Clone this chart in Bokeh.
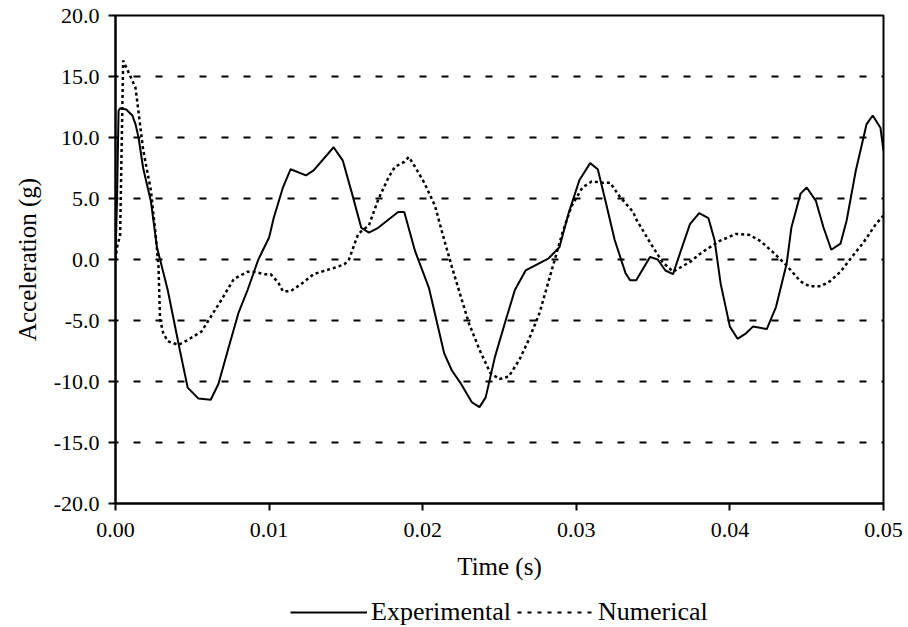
from bokeh.plotting import figure
from bokeh.layouts import column
from bokeh.models import Legend, LegendItem, FixedTicker, NumeralTickFormatter, Range1d
from bokeh.embed import file_html
from bokeh.resources import INLINE

# Experimental (solid) time [s] and acceleration [g]
exp_t = [0.0000, 0.0001, 0.0002, 0.0003, 0.0007, 0.0011, 0.0013, 0.0015, 0.0018,
         0.0023, 0.0027, 0.0029, 0.0034, 0.0038, 0.0042, 0.0047, 0.0054, 0.0062,
         0.0067, 0.0073, 0.0080, 0.0086, 0.0093, 0.0100, 0.0103, 0.0109, 0.0114,
         0.0124, 0.0129, 0.0142, 0.0148, 0.0154, 0.0160, 0.0165, 0.0171, 0.0184,
         0.0188, 0.0195, 0.0204, 0.0214, 0.0219, 0.0225, 0.0232, 0.0237, 0.0241,
         0.0247, 0.0254, 0.0260, 0.0267, 0.0273, 0.0282, 0.0289, 0.0295, 0.0302,
         0.0309, 0.0314, 0.0319, 0.0325, 0.0332, 0.0335, 0.0339, 0.0348, 0.0353,
         0.0358, 0.0363, 0.0368, 0.0374, 0.0380, 0.0386, 0.0390, 0.0394, 0.0400,
         0.0405, 0.0410, 0.0415, 0.0424, 0.0430, 0.0437, 0.0440, 0.0446, 0.0450,
         0.0456, 0.0461, 0.0466, 0.0472, 0.0476, 0.0482, 0.0489, 0.0493, 0.0498,
         0.0500]
exp_a = [0.0, 5.0, 12.2, 12.4, 12.3, 11.8, 11.1, 10.0, 7.5,
         4.8, 1.0, 0.0, -2.5, -5.0, -7.5, -10.5, -11.4, -11.5,
         -10.2, -7.5, -4.4, -2.5, 0.0, 1.8, 3.4, 5.9, 7.4,
         6.9, 7.3, 9.2, 8.1, 5.4, 2.6, 2.2, 2.6, 3.9,
         3.9, 0.7, -2.3, -7.7, -9.1, -10.2, -11.7, -12.1, -11.3,
         -8.0, -5.0, -2.5, -0.9, -0.5, 0.1, 1.0, 3.8, 6.5,
         7.9, 7.4, 4.8, 1.6, -1.1, -1.7, -1.7, 0.2, 0.0,
         -0.9, -1.2, 0.7, 2.9, 3.8, 3.4, 1.6, -2.0, -5.5,
         -6.5, -6.1, -5.5, -5.7, -3.9, -0.3, 2.6, 5.4, 5.9,
         4.8, 2.6, 0.8, 1.3, 3.2, 7.3, 11.1, 11.8, 10.8,
         8.9]

# Numerical (dotted) time [s] and acceleration [g]
num_t = [0.0000, 0.0001, 0.0003, 0.0005, 0.0013, 0.0014, 0.0018, 0.0023, 0.0026,
         0.0028, 0.0029, 0.0031, 0.0034, 0.0041, 0.0047, 0.0056, 0.0062, 0.0069,
         0.0077, 0.0086, 0.0090, 0.0097, 0.0101, 0.0106, 0.0109, 0.0114, 0.0121,
         0.0129, 0.0134, 0.0142, 0.0149, 0.0152, 0.0158, 0.0165, 0.0171, 0.0178,
         0.0182, 0.0188, 0.0191, 0.0195, 0.0201, 0.0208, 0.0214, 0.0219, 0.0224,
         0.0230, 0.0237, 0.0244, 0.0250, 0.0256, 0.0263, 0.0269, 0.0276, 0.0281,
         0.0286, 0.0291, 0.0297, 0.0304, 0.0310, 0.0317, 0.0322, 0.0328, 0.0337,
         0.0339, 0.0348, 0.0356, 0.0363, 0.0374, 0.0382, 0.0393, 0.0404, 0.0413,
         0.0420, 0.0428, 0.0437, 0.0446, 0.0452, 0.0459, 0.0465, 0.0472, 0.0480,
         0.0487, 0.0495, 0.0500]
num_a = [0.0, 1.0, 2.0, 16.3, 14.1, 13.1, 9.0, 5.7, 2.2,
         -0.6, -4.9, -6.0, -6.7, -7.0, -6.6, -5.9, -4.7, -3.3,
         -1.6, -1.0, -1.0, -1.2, -1.2, -1.9, -2.6, -2.6, -2.0,
         -1.2, -1.0, -0.7, -0.4, 0.0, 2.1, 2.8, 4.9, 6.8,
         7.6, 8.0, 8.4, 7.6, 6.3, 4.4, 1.6, -0.6, -2.7,
         -5.2, -7.4, -9.3, -9.8, -9.6, -8.2, -6.6, -4.4, -2.2,
         0.0, 2.2, 4.4, 5.9, 6.4, 6.3, 6.3, 5.2, 3.9,
         3.3, 1.4, -0.2, -1.0, -0.2, 0.6, 1.5, 2.1, 2.0,
         1.5, 0.6, -0.5, -1.8, -2.2, -2.2, -1.8, -1.0, 0.3,
         1.4, 2.9, 3.6]

x_ticks = [0.0, 0.01, 0.02, 0.03, 0.04, 0.05]
y_ticks = [-20, -15, -10, -5, 0, 5, 10, 15, 20]
grid_levels = [-15, -10, -5, 0, 5, 10, 15]

FONT = "Liberation Serif"
W = 908

p = figure(width=W, height=593, output_backend="svg", toolbar_location=None,
           x_range=Range1d(0, 0.05), y_range=Range1d(-20, 20),
           min_border_left=115, min_border_right=25, min_border_top=15,
           min_border_bottom=90)

p.background_fill_color = "white"
p.border_fill_color = "white"
p.outline_line_color = "black"
p.outline_line_width = 2

p.xgrid.visible = False
p.ygrid.ticker = FixedTicker(ticks=grid_levels)
p.ygrid.grid_line_color = "black"
p.ygrid.grid_line_width = 2
p.ygrid.grid_line_dash = "7 15"
p.ygrid.grid_line_dash_offset = 4

for ax in (p.xaxis[0], p.yaxis[0]):
    ax.axis_line_width = 2
    ax.major_tick_line_width = 2
    ax.major_tick_in = 0
    ax.major_tick_out = 7
    ax.minor_tick_line_color = None
    ax.major_label_text_font = FONT
    ax.major_label_text_font_size = "22px"
    ax.major_label_text_color = "black"
    ax.axis_label_text_font = FONT
    ax.axis_label_text_font_size = "25px"
    ax.axis_label_text_font_style = "normal"
    ax.axis_label_text_color = "black"

p.xaxis.ticker = FixedTicker(ticks=x_ticks)
p.xaxis.formatter = NumeralTickFormatter(format="0.00")
p.xaxis.axis_label = "Time (s)"
p.xaxis.major_label_standoff = 12
p.xaxis.axis_label_standoff = 13

p.yaxis.ticker = FixedTicker(ticks=y_ticks)
p.yaxis.formatter = NumeralTickFormatter(format="0.0")
p.yaxis.axis_label = "Acceleration (g)"
p.yaxis.major_label_standoff = 9
p.yaxis.axis_label_standoff = 10

r_exp = p.line(exp_t, exp_a, line_color="black", line_width=2)
r_num = p.line(num_t, num_a, line_color="black", line_width=2.5, line_dash="3 3")

# Strip below the chart holding the legend; its view window lies outside the
# data, so only the legend keys show.
p2 = figure(width=W, height=34, output_backend="svg", toolbar_location=None,
            x_range=Range1d(10, 11), y_range=Range1d(100, 101),
            min_border=0, outline_line_color=None)
p2.axis.visible = False
p2.grid.visible = False
k_exp = p2.line(exp_t, exp_a, line_color="black", line_width=2)
k_num = p2.line(num_t, num_a, line_color="black", line_width=2, line_dash="4 6")

legend = Legend(items=[LegendItem(label="Experimental", renderers=[k_exp]),
                       LegendItem(label="Numerical", renderers=[k_num])],
                orientation="horizontal", location=(175, 0))
legend.label_text_font = FONT
legend.label_text_font_size = "26px"
legend.label_text_color = "black"
legend.glyph_width = 77
legend.label_standoff = 4
legend.spacing = 6
legend.padding = 0
legend.margin = 0
legend.border_line_alpha = 0
legend.background_fill_alpha = 0
p2.add_layout(legend, "center")

layout = column(p, p2, spacing=0)
open("out.html", "w").write(file_html(layout, INLINE))
